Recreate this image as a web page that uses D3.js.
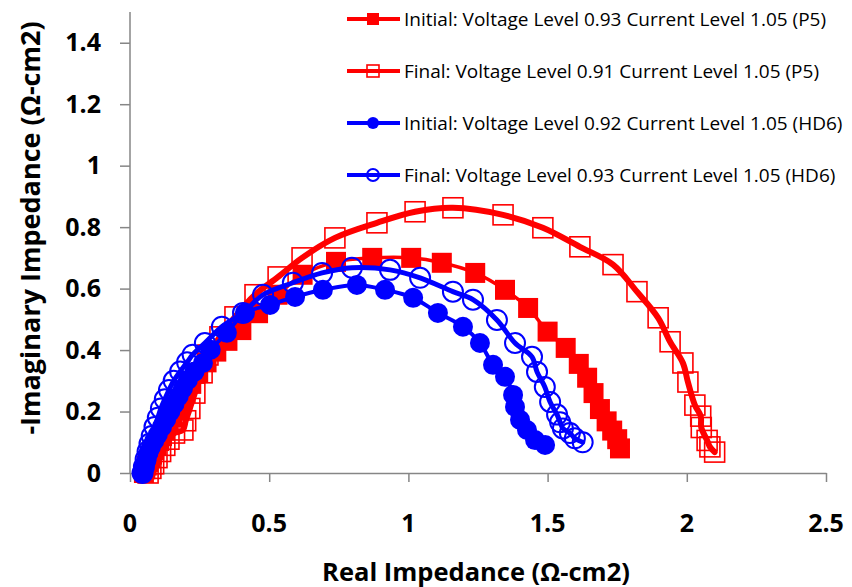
<!DOCTYPE html>
<html>
<head>
<meta charset="utf-8">
<script src="https://cdn.jsdelivr.net/npm/d3@7"></script>
<style>
  html, body { margin: 0; padding: 0; background: #fff; }
  svg { display: block; }
</style>
</head>
<body>
<svg id="chart" width="852" height="587"></svg>
<script>
// Nyquist impedance spectra: [real, -imaginary] pairs in ohm-cm2
const initialP5 = [
  [0.05,0.00],[0.055,0.012],[0.06,0.024],[0.066,0.036],[0.072,0.048],[0.079,0.06],
  [0.087,0.074],[0.095,0.088],[0.105,0.104],[0.115,0.12],[0.126,0.138],[0.138,0.158],
  [0.152,0.18],[0.167,0.205],[0.183,0.232],[0.20,0.26],[0.22,0.29],[0.245,0.325],
  [0.275,0.36],[0.31,0.395],[0.35,0.43],[0.40,0.465],[0.46,0.52],[0.53,0.58],
  [0.62,0.645],[0.74,0.687],[0.87,0.70],[1.01,0.70],[1.12,0.684],[1.24,0.651],
  [1.347,0.596],[1.43,0.537],[1.50,0.46],[1.565,0.407],[1.612,0.355],[1.642,0.31],
  [1.665,0.26],[1.688,0.208],[1.712,0.168],[1.732,0.138],[1.75,0.11],[1.76,0.08]
];
const finalP5 = [
  [0.065,0.0],[0.075,0.015],[0.085,0.03],[0.097,0.05],[0.11,0.07],[0.125,0.09],
  [0.14,0.11],[0.16,0.13],[0.19,0.14],[0.20,0.17],[0.215,0.21],[0.233,0.26],
  [0.259,0.326],[0.28,0.384],[0.323,0.443],[0.377,0.508],[0.449,0.58],[0.532,0.638],
  [0.618,0.70],[0.736,0.765],[0.887,0.814],[1.024,0.85],[1.16,0.863],[1.34,0.84],
  [1.483,0.798],[1.616,0.736],[1.735,0.678],[1.821,0.59],[1.897,0.505],[1.94,0.427],
  [1.986,0.358],[2.004,0.296],[2.029,0.221],[2.05,0.185],[2.052,0.148],[2.073,0.106],
  [2.083,0.085],[2.10,0.068]
];
const initialHD6 = [
  [0.045,0.0],[0.05,0.02],[0.058,0.04],[0.066,0.065],[0.075,0.085],[0.087,0.105],
  [0.10,0.125],[0.115,0.15],[0.13,0.175],[0.145,0.20],[0.16,0.225],[0.175,0.25],
  [0.19,0.275],[0.208,0.303],[0.232,0.33],[0.262,0.358],[0.29,0.401],[0.348,0.456],
  [0.413,0.521],[0.503,0.547],[0.593,0.573],[0.693,0.596],[0.815,0.612],[0.916,0.596],
  [1.017,0.57],[1.106,0.521],[1.196,0.476],[1.257,0.423],[1.304,0.352],[1.347,0.313],
  [1.376,0.254],[1.383,0.215],[1.401,0.173],[1.426,0.14],[1.455,0.107],[1.491,0.091]
];
const finalHD6 = [
  [0.045,0.0],[0.05,0.02],[0.056,0.045],[0.063,0.07],[0.07,0.095],[0.078,0.12],
  [0.088,0.15],[0.10,0.18],[0.111,0.21],[0.125,0.24],[0.14,0.27],[0.157,0.30],
  [0.18,0.33],[0.205,0.36],[0.225,0.385],[0.269,0.423],[0.33,0.476],[0.406,0.521],
  [0.478,0.58],[0.585,0.619],[0.69,0.651],[0.797,0.668],[0.934,0.661],[1.042,0.635],
  [1.16,0.59],[1.232,0.564],[1.318,0.498],[1.383,0.423],[1.444,0.378],[1.462,0.329],
  [1.49,0.28],[1.509,0.231],[1.534,0.19],[1.545,0.165],[1.555,0.145],[1.58,0.13],
  [1.598,0.113],[1.626,0.10]
];

const seriesNames = [
  "Initial: Voltage Level 0.93 Current Level 1.05 (P5)",
  "Final: Voltage Level 0.91 Current Level 1.05 (P5)",
  "Initial: Voltage Level 0.92 Current Level 1.05 (HD6)",
  "Final: Voltage Level 0.93 Current Level 1.05 (HD6)"
];
const xTicks = [0, 0.5, 1, 1.5, 2, 2.5];
const yTicks = [0, 0.2, 0.4, 0.6, 0.8, 1, 1.2, 1.4];
const xTitle = "Real Impedance (\u03A9-cm2)";
const yTitle = "-Imaginary Impedance (\u03A9-cm2)";

const RED = "#ff0000", BLUE = "#0000ff", AXIS = "#868686";

const series = [
  { data: initialP5,  color: RED,  shape: "square", filled: true,  lineW: 3.5 },
  { data: finalP5,    color: RED,  shape: "square", filled: false, lineW: 6 },
  { data: initialHD6, color: BLUE, shape: "circle", filled: true,  lineW: 4 },
  { data: finalHD6,   color: BLUE, shape: "circle", filled: false, lineW: 5 }
];

const svg = d3.select("#chart");
const x = d3.scaleLinear().domain([0, 2.5]).range([130, 826]);
const y = d3.scaleLinear().domain([0, 1.5]).range([473, 12]);

// axes
const xAxis = svg.append("g").attr("transform", `translate(0,${y(0)})`)
  .call(d3.axisBottom(x).tickValues(xTicks).tickSize(9).tickSizeOuter(0).tickFormat(""));
const yAxis = svg.append("g").attr("transform", `translate(${x(0)},0)`)
  .call(d3.axisLeft(y).tickValues(yTicks).tickSize(10).tickSizeOuter(0).tickFormat(""));
[xAxis, yAxis].forEach(g => {
  g.selectAll("path.domain").attr("stroke", AXIS).attr("stroke-width", 1.5);
  g.selectAll(".tick line").attr("stroke", AXIS).attr("stroke-width", 1.5);
});
// y axis line runs to top of the plot
yAxis.select("path.domain").attr("d", `M0,${y(1.5)}V${y(0)}`);

const labelFont = "'Open Sans', 'DejaVu Sans', sans-serif";
svg.append("g").selectAll("text").data(xTicks).join("text")
  .attr("x", d => x(d)).attr("y", 532)
  .attr("text-anchor", "middle")
  .attr("font-family", labelFont).attr("font-weight", 700).attr("font-size", 25)
  .attr("fill", "#000")
  .text(d => d3.format("")(d));
svg.append("g").selectAll("text").data(yTicks).join("text")
  .attr("x", 101).attr("y", d => y(d)).attr("dy", "0.35em")
  .attr("text-anchor", "end")
  .attr("font-family", labelFont).attr("font-weight", 700).attr("font-size", 25)
  .attr("fill", "#000")
  .text(d => d3.format("")(d));

svg.append("text")
  .attr("x", 476).attr("y", 581).attr("text-anchor", "middle")
  .attr("font-family", labelFont).attr("font-weight", 700).attr("font-size", 25.5)
  .text(xTitle);
svg.append("text")
  .attr("transform", "translate(40,228) rotate(-90)").attr("text-anchor", "middle")
  .attr("font-family", labelFont).attr("font-weight", 700).attr("font-size", 27)
  .text(yTitle);

// series: smoothed line, then markers
const line = d3.line().x(d => x(d[0])).y(d => y(d[1])).curve(d3.curveCatmullRom.alpha(0.5));
const plot = svg.append("g");

function drawMarker(g, s, cx, cy, size) {
  if (s.shape === "square") {
    g.append("rect")
      .attr("x", cx - size / 2).attr("y", cy - size / 2)
      .attr("width", size).attr("height", size)
      .attr("fill", s.filled ? s.color : "none")
      .attr("stroke", s.color).attr("stroke-width", s.filled ? 0 : 1.6);
  } else {
    g.append("circle")
      .attr("cx", cx).attr("cy", cy).attr("r", size / 2)
      .attr("fill", s.filled ? s.color : "none")
      .attr("stroke", s.color).attr("stroke-width", s.filled ? 0 : 2);
  }
}

series.forEach(s => {
  const g = plot.append("g");
  g.append("path").attr("d", line(s.data))
    .attr("fill", "none").attr("stroke", s.color)
    .attr("stroke-width", s.lineW).attr("stroke-linejoin", "round").attr("stroke-linecap", "round");
  s.data.forEach(d => drawMarker(g, s, x(d[0]), y(d[1]), 20));
});

// legend
const legendY = [19, 71, 123, 175];
const legend = svg.append("g");
series.forEach((s, i) => {
  const g = legend.append("g");
  g.append("line").attr("x1", 347).attr("x2", 400).attr("y1", legendY[i]).attr("y2", legendY[i])
    .attr("stroke", s.color).attr("stroke-width", 4);
  drawMarker(g, s, 373, legendY[i], 12);
  g.append("text").attr("x", 404).attr("y", legendY[i]).attr("dy", "0.35em")
    .attr("font-family", labelFont).attr("font-size", 19).attr("fill", "#000")
    .text(seriesNames[i]);
});
</script>
</body>
</html>
